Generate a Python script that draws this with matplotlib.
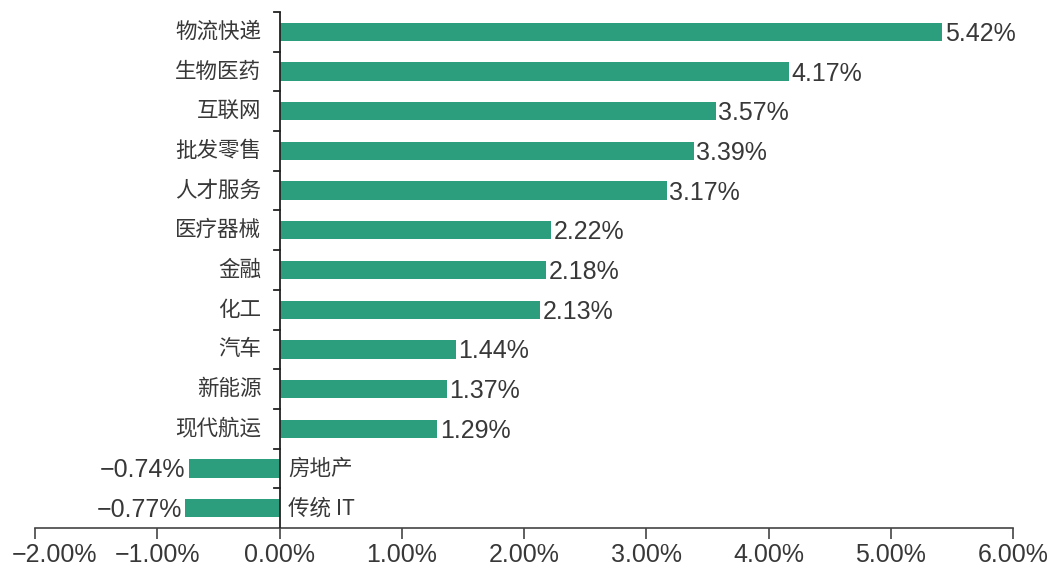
import numpy as np
import matplotlib
matplotlib.use('Agg')
from matplotlib import pyplot as plt
from matplotlib.transforms import ScaledTranslation

categories = ['物流快递', '生物医药', '互联网', '批发零售', '人才服务', '医疗器械', '金融',
              '化工', '汽车', '新能源', '现代航运', '房地产', '传统 IT']
values = [5.42, 4.17, 3.57, 3.39, 3.17, 2.22, 2.18, 2.13, 1.44, 1.37, 1.29, -0.74, -0.77]
x_ticks = [-2, -1, 0, 1, 2, 3, 4, 5, 6]

bar_color = '#2c9e7e'
text_color = '#383838'
num_font = ['Liberation Sans', 'Noto Sans CJK SC']
cjk_font = ['Noto Sans CJK SC', 'Liberation Sans']

plt.rcParams['font.family'] = num_font

fig = plt.figure(figsize=(10.51, 5.69), dpi=100)
ax = fig.add_axes([35 / 1051, 41 / 569, (1013 - 35) / 1051, (528 - 12) / 569])

pos = np.arange(len(categories))
ax.barh(pos, values, height=0.46, color=bar_color, zorder=2)

ax.set_xlim(-2, 6)
ax.set_ylim(len(categories) - 0.5, -0.5)

for p, v, name in zip(pos, values, categories):
    if v >= 0:
        ax.text(v + 0.02, p + 0.05, '{:.2f}%'.format(v), ha='left', va='center',
                fontsize=18, color=text_color, family=num_font)
        ax.text(-0.15, p, name, ha='right', va='center', fontsize=15.5,
                color=text_color, family=cjk_font)
    else:
        ax.text(v - 0.03, p + 0.05, '\u2212{:.2f}%'.format(-v), ha='right', va='center',
                fontsize=18, color=text_color, family=num_font)
        ax.text(0.07, p, name, ha='left', va='center', fontsize=15.5,
                color=text_color, family=cjk_font)

# x axis
ax.set_xticks(x_ticks)
ax.set_xticklabels(['{:.2f}%'.format(t).replace('-', '\u2212') for t in x_ticks],
                   fontsize=18, color=text_color)
ax.tick_params(axis='x', direction='out', length=8, width=1.2, color='#444444', pad=3)
# leftmost label is nudged right so it stays inside the figure
first = ax.get_xticklabels()[0]
first.set_transform(first.get_transform() + ScaledTranslation(0.2, 0, fig.dpi_scale_trans))

# y axis drawn at zero with ticks on category boundaries
ax.set_yticks([])
ax.axvline(0, color='#222222', lw=1.3, zorder=3)
for b in np.arange(-0.5, len(categories) - 0.5, 1.0):
    ax.plot([-0.045, 0], [b, b], color='#222222', lw=1.3, zorder=3, clip_on=False)

for side in ['top', 'right', 'left']:
    ax.spines[side].set_visible(False)
ax.spines['bottom'].set_color('#444444')
ax.spines['bottom'].set_linewidth(1.2)

fig.savefig('out.png', dpi=100)
